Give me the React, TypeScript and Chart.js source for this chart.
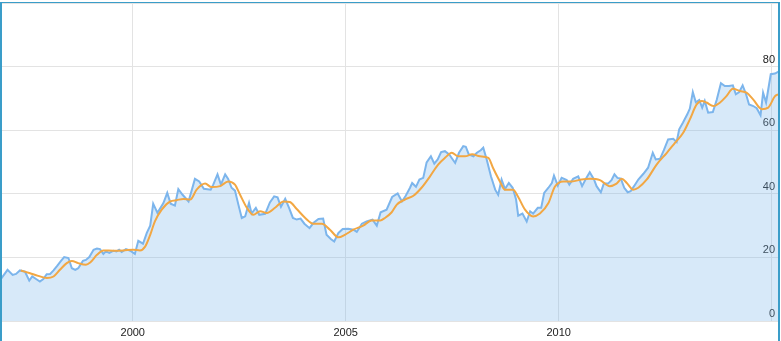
import React, { useEffect, useRef } from "react";
import { Chart, registerables } from "chart.js";

Chart.register(...registerables);

// Price series (decimal year, value)
const priceYears = [
  1996.89, 1997.06, 1997.18, 1997.26, 1997.35, 1997.47, 1997.57, 1997.64, 1997.73, 1997.82,
  1997.9, 1997.98, 1998.06, 1998.14, 1998.23, 1998.32, 1998.39, 1998.49, 1998.57, 1998.65,
  1998.72, 1998.83, 1998.9, 1998.98, 1999.08, 1999.16, 1999.23, 1999.31, 1999.37, 1999.45,
  1999.55, 1999.62, 1999.68, 1999.74, 1999.84, 1999.94, 2000.05, 2000.13, 2000.24, 2000.33,
  2000.41, 2000.48, 2000.58, 2000.72, 2000.81, 2000.89, 2000.99, 2001.07, 2001.17, 2001.31,
  2001.46, 2001.56, 2001.67, 2001.83, 2001.89, 2001.99, 2002.07, 2002.17, 2002.24, 2002.32,
  2002.4, 2002.48, 2002.56, 2002.64, 2002.73, 2002.79, 2002.89, 2002.97, 2003.11, 2003.22,
  2003.32, 2003.4, 2003.48, 2003.58, 2003.67, 2003.76, 2003.85, 2003.94, 2004.03, 2004.15,
  2004.24, 2004.36, 2004.47, 2004.55, 2004.65, 2004.73, 2004.83, 2004.93, 2005.06, 2005.18,
  2005.26, 2005.38, 2005.49, 2005.63, 2005.73, 2005.82, 2005.96, 2006.09, 2006.22, 2006.32,
  2006.41, 2006.51, 2006.56, 2006.65, 2006.73, 2006.82, 2006.9, 2007.0, 2007.08, 2007.16,
  2007.24, 2007.33, 2007.43, 2007.57, 2007.66, 2007.76, 2007.82, 2007.89, 2008.0, 2008.08,
  2008.17, 2008.23, 2008.31, 2008.41, 2008.51, 2008.58, 2008.66, 2008.74, 2008.83, 2008.92,
  2009.0, 2009.05, 2009.15, 2009.25, 2009.33, 2009.4, 2009.51, 2009.59, 2009.66, 2009.76,
  2009.84, 2009.89, 2009.98, 2010.07, 2010.19, 2010.25, 2010.34, 2010.46, 2010.55, 2010.64,
  2010.73, 2010.83, 2010.89, 2010.99, 2011.06, 2011.16, 2011.24, 2011.31, 2011.38, 2011.46,
  2011.54, 2011.62, 2011.69, 2011.77, 2011.87, 2011.99, 2012.1, 2012.21, 2012.28, 2012.38,
  2012.47, 2012.57, 2012.69, 2012.77, 2012.83, 2012.92, 2013.02, 2013.08, 2013.15, 2013.22,
  2013.3, 2013.37, 2013.43, 2013.51, 2013.62, 2013.71, 2013.81, 2013.9, 2014.0, 2014.09,
  2014.16, 2014.24, 2014.32, 2014.4, 2014.47, 2014.57, 2014.65, 2014.74, 2014.8, 2014.87,
  2014.98, 2015.08, 2015.16,
];
const priceValues = [
  12.9, 16.1, 14.5, 14.8, 15.9, 15.5, 12.7, 14.0, 13.2, 12.4,
  13.2, 14.7, 14.8, 15.9, 17.4, 19.0, 20.1, 19.8, 16.6, 16.1,
  16.6, 18.9, 19.2, 20.1, 22.4, 22.8, 22.6, 21.1, 21.9, 21.4,
  22.1, 21.9, 22.4, 21.7, 22.6, 22.1, 21.1, 25.2, 24.3, 27.7,
  30.0, 36.9, 34.0, 37.1, 40.3, 36.9, 36.3, 41.5, 39.7, 37.6,
  44.7, 43.9, 41.6, 41.3, 42.9, 46.1, 42.9, 46.1, 44.7, 41.9,
  41.0, 36.6, 32.4, 32.9, 37.1, 33.8, 35.6, 33.4, 33.7, 37.3,
  39.2, 38.9, 35.9, 38.4, 35.6, 32.4, 31.9, 32.2, 30.6, 29.2,
  30.8, 32.1, 32.2, 27.1, 25.8, 25.0, 27.7, 28.9, 29.0, 28.7,
  28.0, 30.6, 31.3, 31.9, 30.0, 34.2, 35.0, 39.0, 40.1, 37.6,
  39.4, 41.9, 43.4, 42.2, 44.5, 45.0, 49.9, 51.8, 49.5, 50.8,
  53.1, 53.4, 52.4, 49.7, 52.9, 55.0, 54.8, 52.4, 51.8, 52.9,
  53.7, 54.5, 50.8, 45.5, 41.3, 39.7, 44.5, 41.5, 43.4, 41.9,
  38.2, 33.1, 33.8, 31.3, 34.5, 33.8, 35.6, 35.6, 40.3, 41.9,
  43.4, 45.7, 42.6, 45.0, 44.3, 42.9, 44.7, 45.5, 42.4, 44.7,
  46.8, 44.5, 42.4, 40.5, 43.2, 43.2, 44.3, 46.1, 45.0, 44.8,
  41.9, 40.5, 40.8, 42.4, 44.5, 46.3, 48.2, 52.9, 50.8, 51.0,
  53.7, 57.1, 57.3, 56.3, 60.3, 62.4, 65.0, 66.8, 72.0, 68.8,
  69.5, 67.1, 69.2, 65.5, 65.7, 69.5, 74.8, 73.9, 73.9, 74.1,
  71.3, 72.0, 74.1, 71.3, 68.1, 67.6, 66.9, 64.7, 71.8, 68.7,
  77.6, 77.8, 78.4,
];

// Moving average series (decimal year, value)
const avgYears = [
  1997.37, 1997.59, 1997.78, 1997.98, 1998.14, 1998.29, 1998.45, 1998.57, 1998.72, 1998.9,
  1999.0, 1999.16, 1999.31, 1999.55, 1999.78, 2000.01, 2000.17, 2000.29, 2000.41, 2000.52,
  2000.68, 2000.88, 2001.03, 2001.19, 2001.35, 2001.5, 2001.7, 2001.85, 2002.05, 2002.24,
  2002.4, 2002.52, 2002.68, 2002.83, 2002.99, 2003.15, 2003.34, 2003.54, 2003.69, 2003.85,
  2004.05, 2004.24, 2004.44, 2004.63, 2004.83, 2004.98, 2005.18, 2005.41, 2005.61, 2005.81,
  2005.92, 2006.08, 2006.2, 2006.39, 2006.59, 2006.78, 2006.98, 2007.17, 2007.33, 2007.49,
  2007.64, 2007.8, 2007.97, 2008.15, 2008.35, 2008.46, 2008.62, 2008.74, 2008.93, 2009.05,
  2009.21, 2009.4, 2009.56, 2009.76, 2009.91, 2010.11, 2010.31, 2010.54, 2010.73, 2010.97,
  2011.2, 2011.36, 2011.48, 2011.6, 2011.75, 2011.87, 2012.07, 2012.3, 2012.54, 2012.73,
  2012.92, 2013.08, 2013.24, 2013.36, 2013.47, 2013.63, 2013.79, 2013.94, 2014.09, 2014.26,
  2014.41, 2014.57, 2014.77, 2014.92, 2015.08, 2015.16,
];
const avgValues = [
  15.9, 15.0, 14.2, 13.5, 14.0, 16.1, 18.2, 18.9, 18.2, 17.7,
  18.4, 20.8, 22.2, 22.1, 22.2, 22.4, 22.2, 23.4, 27.1, 31.3,
  35.0, 37.6, 38.0, 38.4, 38.2, 41.3, 43.2, 42.1, 42.4, 43.9,
  42.9, 39.7, 35.6, 33.4, 34.5, 34.0, 35.6, 37.6, 37.4, 35.2,
  32.4, 30.6, 30.6, 28.7, 26.3, 27.1, 28.7, 30.0, 31.6, 31.6,
  32.4, 34.2, 36.6, 38.2, 39.4, 41.9, 45.5, 49.2, 51.3, 52.9,
  51.8, 51.8, 52.4, 51.8, 51.3, 48.1, 43.9, 41.3, 41.3, 39.0,
  35.0, 32.9, 33.8, 37.1, 42.2, 43.9, 43.9, 44.5, 44.7, 44.3,
  42.4, 43.2, 44.7, 43.4, 41.3, 41.9, 44.5, 49.2, 52.9, 56.0,
  59.1, 63.4, 68.1, 69.2, 68.7, 67.6, 68.7, 70.7, 73.0, 72.3,
  71.8, 69.6, 66.6, 67.1, 70.7, 71.3,
];

const xRange = [1996.93, 2015.15];
const xTickYears = [2000, 2005, 2010, 2015];
const yRange = [0, 100];
const yTickValues = [0, 20, 40, 60, 80, 100];

const FONT = { family: "'Liberation Sans', Arial, sans-serif", size: 11 };

export default function App() {
  const ref = useRef<HTMLCanvasElement>(null);

  useEffect(() => {
    if (!ref.current) return;
    const chart = new Chart(ref.current, {
      type: "line",
      data: {
        datasets: [
          {
            data: priceYears.map((x, i) => ({ x, y: priceValues[i] })),
            borderColor: "#7cb5ec",
            backgroundColor: "rgba(124,181,236,0.3)",
            fill: "origin",
            borderWidth: 2,
            pointRadius: 0,
            tension: 0,
            order: 2,
          },
          {
            data: avgYears.map((x, i) => ({ x, y: avgValues[i] })),
            borderColor: "#f2a743",
            backgroundColor: "transparent",
            fill: false,
            borderWidth: 2,
            pointRadius: 0,
            cubicInterpolationMode: "monotone",
            order: 1,
          },
        ],
      },
      options: {
        responsive: false,
        animation: false,
        events: [],
        layout: { padding: 0 },
        plugins: { legend: { display: false }, tooltip: { enabled: false } },
        scales: {
          x: {
            type: "linear",
            min: xRange[0],
            max: xRange[1],
            border: { display: false },
            grid: { color: "#e3e3e3", drawTicks: false, lineWidth: 1 },
            ticks: {
              font: FONT,
              color: "#222",
              padding: 5,
              maxRotation: 0,
              autoSkip: false,
              callback: (v: any) => (v === 2015 ? "" : String(v)),
            },
            afterBuildTicks: (scale: any) => {
              scale.ticks = xTickYears.map((value) => ({ value }));
            },
            afterFit: (scale: any) => {
              scale.height = 20;
              scale.paddingLeft = 0;
              scale.paddingRight = 0;
            },
          },
          y: {
            type: "linear",
            position: "right",
            min: yRange[0],
            max: yRange[1],
            border: { display: false },
            grid: { color: "#e3e3e3", drawTicks: false, lineWidth: 1 },
            ticks: {
              mirror: true,
              font: FONT,
              color: "#222",
              padding: -3,
              labelOffset: -7,
              callback: (v: any) => (v === 100 ? "" : String(v)),
            },
            afterBuildTicks: (scale: any) => {
              scale.ticks = yTickValues.map((value) => ({ value }));
            },
            afterFit: (scale: any) => {
              scale.width = 0;
              scale.paddingTop = 0;
              scale.paddingBottom = 0;
            },
          },
        },
      },
    } as any);
    return () => chart.destroy();
  }, []);

  return (
    <div
      style={{
        position: "fixed",
        left: 0,
        top: 0,
        width: 781,
        height: 341,
        background: "#fff",
        overflow: "hidden",
      }}
    >
      <div
        style={{
          position: "absolute",
          left: 0,
          top: 2,
          width: 780,
          height: 360,
          boxSizing: "border-box",
          borderLeft: "2px solid #3a9dc9",
          borderRight: "2px solid #3a9dc9",
          borderTop: "1px solid #3a9dc9",
        }}
      >
        <canvas
          ref={ref}
          width={776}
          height={338}
          style={{ display: "block", width: 776, height: 338 }}
        />
      </div>
    </div>
  );
}
